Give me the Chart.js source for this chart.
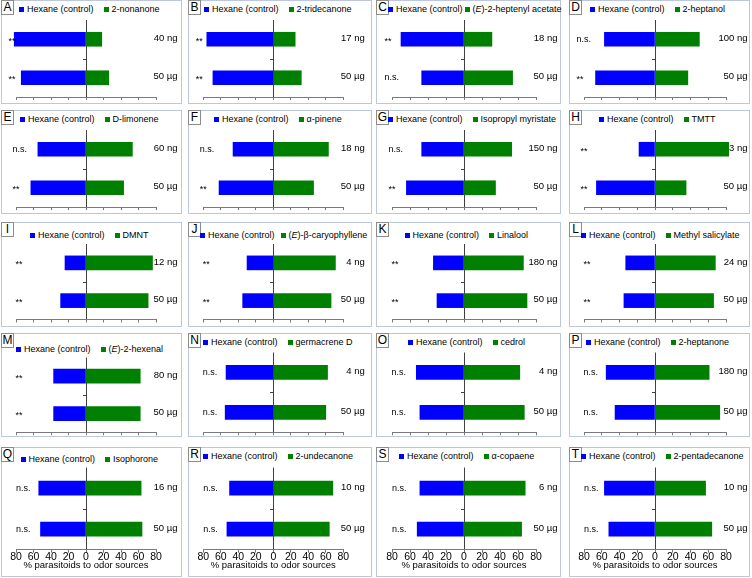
<!DOCTYPE html>
<html>
<head>
<meta charset="utf-8">
<script src="https://cdn.jsdelivr.net/npm/chart.js@4.4.1/dist/chart.umd.min.js"></script>
<style>
    body { margin: 0; background: #fff; font-family: 'Liberation Sans', Arial, sans-serif; }
    #wrap { position: relative; width: 752px; height: 578px; overflow: hidden; }
    .panel { position: absolute; box-sizing: border-box; border: 1px solid #bcc6de; }
    .panel canvas { position: absolute; left: -1px; top: -1px; }
    .tag { position: absolute; left: -1px; top: -1px; width: 13px; height: 15px; box-sizing: border-box;
           border: 1px solid #8c8c8c; background: #fff; font-size: 12px; line-height: 13px; text-align: center; color: #000; }
    .legend { position: absolute; display: flex; align-items: center; white-space: nowrap;
              font-size: 9px; line-height: 11px; color: #000; }
    .legend .sw { display: inline-block; width: 5px; height: 5px; margin-right: 3px; vertical-align: middle; }
    .legend .item { display: inline-flex; align-items: center; }
</style>
</head>
<body>
<div id="wrap"></div>
<script>
// 데이터 (패널 A-T, 4열 x 5행)
const panelLetters = ['A','B','C','D','E','F','G','H','I','J','K','L','M','N','O','P','Q','R','S','T'];
const odorNames = ['2-nonanone', '2-tridecanone', '(E)-2-heptenyl acetate', '2-heptanol',
    'D-limonene', 'α-pinene', 'Isopropyl myristate', 'TMTT',
    'DMNT', '(E)-β-caryophyllene', 'Linalool', 'Methyl salicylate',
    '(E)-2-hexenal', 'germacrene D', 'cedrol', '2-heptanone',
    'Isophorone', '2-undecanone', 'α-copaene', '2-pentadecanone'];
const lowDoses = ['40 ng', '17 ng', '18 ng', '100 ng', '60 ng', '18 ng', '150 ng', '3 ng',
    '12 ng', '4 ng', '180 ng', '24 ng', '80 ng', '4 ng', '4 ng', '180 ng',
    '16 ng', '10 ng', '6 ng', '10 ng'];
const highDose = '50 µg';
// % parasitoids: [low dose, 50 µg]
const controlPct = [[82,74],[76,69],[70,47],[57,67],[55,63],[46,62],[47,64],[18,66],
    [24,29],[30,35],[34,30],[33,35],[37,37],[54,55],[53,49],[55,45],
    [54,52],[50,53],[49,52],[57,52]];
const odorPct = [[18,26],[25,32],[31,54],[50,37],[53,43],[63,46],[53,35],[83,35],
    [76,71],[71,66],[66,70],[68,66],[62,62],[62,60],[62,67],[61,73],
    [63,64],[68,64],[68,64],[57,64]];
const sigLabels = [['**','**'],['**','**'],['**','n.s.'],['n.s.','**'],
    ['n.s.','**'],['n.s.','**'],['n.s.','**'],['**','**'],
    ['**','**'],['**','**'],['**','**'],['**','**'],
    ['**','**'],['n.s.','n.s.'],['n.s.','n.s.'],['n.s.','n.s.'],
    ['n.s.','n.s.'],['n.s.','n.s.'],['n.s.','n.s.'],['n.s.','n.s.']];
const xTickValues = [-80, -60, -40, -20, 0, 20, 40, 60, 80];
const xTitle = '% parasitoids to odor sources';

// 레이아웃
const colLeft = [1, 188, 376, 569];
const colWidth = [181, 184, 185, 181];
const plotLeft = [15, 15.3, 16, 15];
const plotRight = [155, 155.3, 160, 157];
const rowTop = [0, 110, 222, 333, 447];
const rowHeight = [104, 104, 105, 104, 130];
const plotTop = [20, 20, 22, 19.5, 20.5];
const plotBottom = [97, 97, 97.5, 99.3, 101.3];
const legendY = [10, 10, 14, 10, 10];
const sigDx = [-7.5, -3.5, -0.5, -0.5, 0];
const overrides = { M: { plotTop: 24.5, legendY: 17 }, Q: { legendY: 13 } };

const BLUE = '#0000ff';
const GREEN = '#008000';
const ZERO_COLOR = '#404040';
const AXIS_COLOR = '#7a7a7a';
const FONT = "'Liberation Sans', Arial, sans-serif";

Chart.defaults.font.family = FONT;

const panelText = {
    id: 'panelText',
    afterDatasetsDraw(chart, args, opts) {
        const { ctx, chartArea, scales: { x, y } } = chart;
        const zeroX = Math.round(x.getPixelForValue(0));
        ctx.save();
        // 카테고리 경계 눈금
        ctx.strokeStyle = ZERO_COLOR;
        ctx.lineWidth = 1;
        const midY = Math.round(y.getPixelForValue(0.5)) + 0.5;
        ctx.beginPath();
        ctx.moveTo(zeroX - 3, midY);
        ctx.lineTo(zeroX, midY);
        ctx.stroke();

        ctx.fillStyle = '#000';
        ctx.textBaseline = 'middle';
        chart.data.labels.forEach((dose, i) => {
            const yy = y.getPixelForValue(i);
            const sig = opts.sig[i];
            ctx.font = `9px ${FONT}`;
            ctx.textAlign = 'left';
            ctx.fillText(sig, chartArea.left + opts.sigDx, yy + (sig === '**' ? 2 : 0));
            ctx.font = `9.5px ${FONT}`;
            ctx.textAlign = 'right';
            ctx.fillText(dose, chartArea.right + 21.5, yy - 1);
        });
        ctx.restore();
    }
};

function fmtName(name) {
    return name.replace('(E)', '(<i>E</i>)');
}

function buildLegend(panel, i, W, ly) {
    const lg = document.createElement('div');
    lg.className = 'legend';
    lg.innerHTML = `<span class="item"><span class="sw" style="background:${BLUE}"></span>Hexane (control)</span>` +
        `<span class="item second"><span class="sw" style="background:${GREEN}"></span>${fmtName(odorNames[i])}</span>`;
    panel.appendChild(lg);
    const second = lg.querySelector('.second');
    let gap = 10;
    second.style.marginLeft = gap + 'px';
    let w = lg.offsetWidth;
    const maxW = W - 17;
    if (w > maxW) {
        gap = Math.max(2, gap - (w - maxW));
        second.style.marginLeft = gap + 'px';
        w = lg.offsetWidth;
    }
    const left = Math.max(12, (W - w) / 2 - 2);
    lg.style.left = (left - 1) + 'px';
    lg.style.top = (ly - 6.5 - 1) + 'px';
}

const wrap = document.getElementById('wrap');

panelLetters.forEach((letter, i) => {
    const col = i % 4;
    const row = Math.floor(i / 4);
    const isBottom = row === 4;
    const ov = overrides[letter] || {};
    const W = colWidth[col];
    const H = rowHeight[row];
    const pTop = ov.plotTop ?? plotTop[row];
    const pBottom = plotBottom[row];

    const panel = document.createElement('div');
    panel.className = 'panel';
    panel.style.left = colLeft[col] + 'px';
    panel.style.top = rowTop[row] + 'px';
    panel.style.width = W + 'px';
    panel.style.height = H + 'px';
    wrap.appendChild(panel);

    const tag = document.createElement('div');
    tag.className = 'tag';
    tag.textContent = letter;
    panel.appendChild(tag);

    buildLegend(panel, i, W, ov.legendY ?? legendY[row]);

    const canvas = document.createElement('canvas');
    canvas.width = W;
    canvas.height = H;
    canvas.style.width = W + 'px';
    canvas.style.height = H + 'px';
    panel.appendChild(canvas);

    // x축 높이: 눈금(3) + 라벨(12-2) + 제목(11.4-2)
    const axisH = isBottom ? 3 + 10 + 9.4 : 3;

    new Chart(canvas, {
        type: 'bar',
        data: {
            labels: [lowDoses[i], highDose],
            datasets: [
                {
                    label: 'Hexane (control)',
                    data: controlPct[i].map(v => -v),
                    backgroundColor: BLUE,
                    barThickness: 14,
                    clip: false
                },
                {
                    label: odorNames[i],
                    data: odorPct[i],
                    backgroundColor: GREEN,
                    barThickness: 14,
                    clip: false
                }
            ]
        },
        options: {
            indexAxis: 'y',
            responsive: false,
            animation: false,
            devicePixelRatio: 1,
            layout: {
                padding: {
                    left: plotLeft[col],
                    right: W - plotRight[col],
                    top: pTop,
                    bottom: H - pBottom - axisH
                }
            },
            plugins: {
                legend: { display: false },
                tooltip: { enabled: false },
                panelText: { sig: sigLabels[i], sigDx: sigDx[row] }
            },
            scales: {
                x: {
                    type: 'linear',
                    min: -80,
                    max: 80,
                    stacked: true,
                    afterFit: s => { s.paddingLeft = 0; s.paddingRight = 0; },
                    afterBuildTicks: s => { s.ticks = xTickValues.map(v => ({ value: v })); },
                    grid: {
                        drawOnChartArea: true,
                        color: c => (c.tick && c.tick.value === 0 ? ZERO_COLOR : 'rgba(0,0,0,0)'),
                        tickColor: AXIS_COLOR,
                        tickLength: 3,
                        lineWidth: 1
                    },
                    border: { color: AXIS_COLOR },
                    ticks: {
                        display: isBottom,
                        padding: -2,
                        color: '#000',
                        font: { size: 10.5 },
                        maxRotation: 0,
                        autoSkip: false,
                        callback: v => Math.abs(v)
                    },
                    title: {
                        display: isBottom,
                        text: xTitle,
                        color: '#000',
                        font: { size: 9.5 },
                        padding: { top: -2, bottom: 0 }
                    }
                },
                y: {
                    type: 'category',
                    stacked: true,
                    display: false
                }
            }
        },
        plugins: [panelText]
    });
});
</script>
</body>
</html>
